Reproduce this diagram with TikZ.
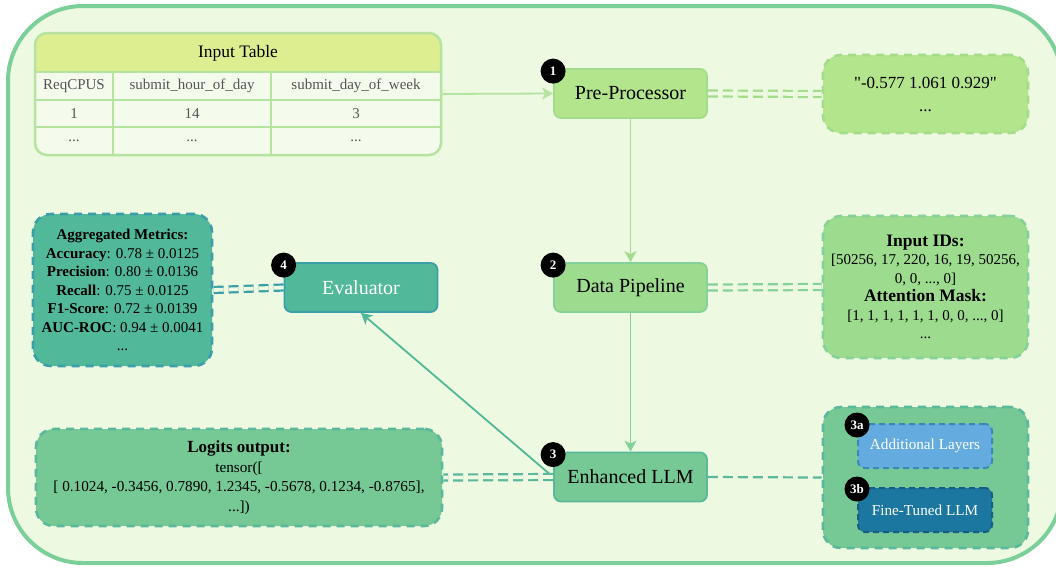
\documentclass[tikz,border=0pt]{standalone}
\usepackage{fontspec}
\setmainfont{Liberation Serif}
\usetikzlibrary{arrows.meta,positioning}
\definecolor{bg}{HTML}{EDF9E0}
\definecolor{frame}{HTML}{7BCF98}
\definecolor{thead}{HTML}{DCEE90}
\definecolor{tline}{HTML}{B5E3A0}
\definecolor{ttext}{HTML}{555555}
\definecolor{preF}{HTML}{B3E58C}
\definecolor{preD}{HTML}{A3DC8A}
\definecolor{dpF}{HTML}{9DDB8E}
\definecolor{dpD}{HTML}{84D29A}
\definecolor{enF}{HTML}{76C994}
\definecolor{enD}{HTML}{5AB89C}
\definecolor{evF}{HTML}{52B89A}
\definecolor{evD}{HTML}{3A9FA8}
\definecolor{alF}{HTML}{64ABE0}
\definecolor{alD}{HTML}{3A89B5}
\definecolor{ftF}{HTML}{1B779F}
\definecolor{ftD}{HTML}{185C86}
\tikzset{
  procbox/.style={draw=#1, line width=1.8pt, rounded corners=7pt, minimum width=153pt, minimum height=49pt, font=\fontsize{20}{24}\selectfont, align=center, inner sep=0pt},
  outbox/.style={draw=#1, line width=2.6pt, rounded corners=18pt, dash pattern=on 8pt off 6pt, align=center, inner sep=0pt},
  badge/.style={circle, fill=black, text=white, minimum size=25pt, inner sep=0pt, font=\fontsize{13}{13}\selectfont\bfseries},
  dconn/.style={draw=#1, line width=2.2pt, double=bg, double distance=3.8pt, dash pattern=on 10pt off 5pt},
  sconn/.style={draw=#1, line width=2.2pt, dash pattern=on 10pt off 5pt},
  flow/.style={draw=#1, line width=1.8pt, -{Stealth[length=11pt,width=12pt,inset=3pt]}},
  cell/.style={font=\fontsize{15}{17}\selectfont, text=ttext}
}
\begin{document}
\begin{tikzpicture}[x=1pt,y=-1pt]
\useasboundingbox (0,0) rectangle (1056,568);
% outer frame
\draw[line width=4pt, draw=frame, fill=bg, rounded corners=75pt] (8,6) rectangle (1062,563);

% input table
\fill[bg!60!white, rounded corners=12pt] (35,33) rectangle (441,155);
\fill[thead] (35,72) [rounded corners=12pt] -- (35,33) -- (441,33) [sharp corners] -- (441,72) -- cycle;
\draw[tline, line width=2.2pt] (35,72) -- (441,72) (35,100) -- (441,100) (35,127) -- (441,127)
  (113,72) -- (113,155) (271,72) -- (271,155);
\node[draw=tline, line width=2.5pt, rounded corners=12pt, minimum width=406pt, minimum height=122pt, inner sep=0pt] (tbl) at (238,94) {};
\node[font=\fontsize{17.5}{20}\selectfont] (thd) at (238,53) {Input Table};
\node[cell] (c11) at (74,86) {ReqCPUS};
\node[cell] (c12) at (192,86) {submit\_hour\_of\_day};
\node[cell] (c13) at (356,86) {submit\_day\_of\_week};
\node[cell] (c21) at (74,114) {1};
\node[cell] (c22) at (192,114) {14};
\node[cell] (c23) at (356,114) {3};
\node[cell] (c31) at (74,141) {...};
\node[cell] (c32) at (192,141) {...};
\node[cell] (c33) at (356,141) {...};

% process nodes
\node[procbox=preD, fill=preF] (pre) at (630.5,93.5) {Pre-Processor};
\node[procbox=dpD, fill=dpF] (dp) at (630.5,287.5) {Data Pipeline};
\node[procbox=enD, fill=enF] (enh) at (630.5,477) {Enhanced LLM};
\node[procbox=evD, fill=evF, text=white] (eval) at (361,287.5) {Evaluator};

% output boxes
\node[outbox=preD, fill=preF, minimum width=205pt, minimum height=78pt, font=\fontsize{17}{23}\selectfont\addfontfeatures{Ligatures=TeXOff}] (o1) at (925.5,94) {"-0.577 1.061 0.929"\\...};
\node[outbox=dpD, fill=dpF, minimum width=205pt, minimum height=142pt, font=\fontsize{15}{18.5}\selectfont] (o2) at (925.5,287) {{\fontsize{17.5}{19}\selectfont\bfseries Input IDs:}\\{}[50256, 17, 220, 16, 19, 50256,\\0, 0, ..., 0]\\{\fontsize{17.5}{20}\selectfont\bfseries Attention Mask:}\\{}[1, 1, 1, 1, 1, 1, 0, 0, ..., 0]\\...};
\node[outbox=enD, fill=enF, minimum width=205pt, minimum height=141pt] (o3) at (925.5,477.5) {};
\node[outbox=enD, fill=enF, minimum width=406pt, minimum height=97pt, font=\fontsize{15.2}{19.5}\selectfont] (logits) at (239,477.5) {{\fontsize{17}{19.5}\selectfont\bfseries Logits output:}\\tensor([\\{}[ 0.1024, -0.3456, 0.7890, 1.2345, -0.5678, 0.1234, -0.8765],\\...])};
\node[outbox=evD, fill=evF, minimum width=179pt, minimum height=152pt, font=\fontsize{15}{18.5}\selectfont] (met) at (122.5,290) {\textbf{Aggregated Metrics:}\\
\textbf{Accuracy}: 0.78 ± 0.0125\\
\textbf{Precision}: 0.80 ± 0.0136\\
\textbf{Recall}: 0.75 ± 0.0125\\
\textbf{F1-Score}: 0.72 ± 0.0139\\
\textbf{AUC-ROC}: 0.94 ± 0.0041\\
...};

% inner boxes of enhanced LLM
\node[draw=alD, fill=alF, line width=2pt, dash pattern=on 6pt off 4pt, rounded corners=7pt, minimum width=134pt, minimum height=44pt, text=white, font=\fontsize{15.2}{17}\selectfont] (al) at (925,446) {Additional Layers};
\node[draw=ftD, fill=ftF, line width=2pt, dash pattern=on 6pt off 4pt, rounded corners=7pt, minimum width=134pt, minimum height=44pt, text=white, font=\fontsize{15.2}{17}\selectfont] (ft) at (925,510) {Fine-Tuned LLM};

% connectors
\draw[flow=tline] (tbl.east) -- (pre.west);
\draw[flow=preD] (pre.south) -- (dp.north);
\draw[flow=dpD] (dp.south) -- (enh.north);
\draw[flow=evF] (enh.west) -- (eval.south);
\draw[dconn=preD] (pre.east) -- (o1.west);
\draw[dconn=dpD] (dp.east) -- (o2.west);
\draw[dconn=enD] (enh.west) -- (logits.east);
\draw[dconn=evD] (eval.west) -- (met.east);
\draw[sconn=enD] (enh.east) -- (o3.west);

% badges
\node[badge, yshift=-3pt] (b1) at (pre.north west) {1};
\node[badge, yshift=-3pt] (b2) at (dp.north west) {2};
\node[badge, yshift=-3pt] (b3) at (enh.north west) {3};
\node[badge, yshift=-3pt] (b4) at (eval.north west) {4};
\node[badge, yshift=-2pt] (b3a) at (al.north west) {3a};
\node[badge, yshift=-2pt] (b3b) at (ft.north west) {3b};
\end{tikzpicture}
\end{document}
